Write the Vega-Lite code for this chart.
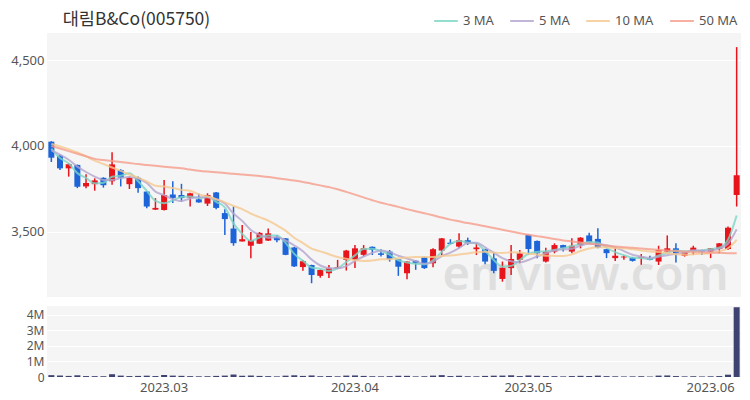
{
 "$schema": "https://vega.github.io/schema/vega-lite/v6.json",
 "padding": {"left": 10, "top": 8, "right": 10, "bottom": 5},
 "background": "#ffffff",
 "title": {"text": "대림B&Co(005750)", "anchor": "start", "dx": 52, "fontSize": 17.5, "font": "Noto Sans CJK KR", "fontWeight": "normal", "color": "#333333", "offset": -20},
 "data": {"values": [
{"date":"2023-02-10","open":4025,"high":4028,"low":3907,"close":3932,"volume":120000,"ma3":3985,"ma5":3975,"ma10":4012,"ma50":4000},
{"date":"2023-02-13","open":3944,"high":3950,"low":3860,"close":3870,"volume":95000,"ma3":3930,"ma5":3950,"ma10":3998,"ma50":3985},
{"date":"2023-02-14","open":3870,"high":3900,"low":3822,"close":3894,"volume":70000,"ma3":3898.7,"ma5":3920,"ma10":3982,"ma50":3970},
{"date":"2023-02-15","open":3890,"high":3892,"low":3755,"close":3763,"volume":110000,"ma3":3842.3,"ma5":3880,"ma10":3962,"ma50":3955},
{"date":"2023-02-16","open":3765,"high":3835,"low":3754,"close":3785,"volume":60000,"ma3":3814,"ma5":3848.8,"ma10":3940,"ma50":3940},
{"date":"2023-02-17","open":3778,"high":3812,"low":3740,"close":3800,"volume":55000,"ma3":3782.7,"ma5":3822.4,"ma10":3915,"ma50":3925},
{"date":"2023-02-20","open":3815,"high":3818,"low":3758,"close":3772,"volume":50000,"ma3":3785.7,"ma5":3802.8,"ma10":3895,"ma50":3919},
{"date":"2023-02-21","open":3795,"high":3963,"low":3775,"close":3893,"volume":180000,"ma3":3821.7,"ma5":3802.6,"ma10":3875,"ma50":3913},
{"date":"2023-02-22","open":3860,"high":3865,"low":3765,"close":3816,"volume":90000,"ma3":3827,"ma5":3813.2,"ma10":3855,"ma50":3907},
{"date":"2023-02-23","open":3778,"high":3822,"low":3750,"close":3815,"volume":60000,"ma3":3841.3,"ma5":3819.2,"ma10":3834,"ma50":3901},
{"date":"2023-02-24","open":3815,"high":3822,"low":3728,"close":3755,"volume":70000,"ma3":3795.3,"ma5":3810.2,"ma10":3816.3,"ma50":3895},
{"date":"2023-02-27","open":3735,"high":3738,"low":3638,"close":3648,"volume":85000,"ma3":3739.3,"ma5":3785.4,"ma10":3794.1,"ma50":3890},
{"date":"2023-02-28","open":3630,"high":3697,"low":3628,"close":3640,"volume":60000,"ma3":3681,"ma5":3734.8,"ma10":3768.7,"ma50":3885},
{"date":"2023-03-02","open":3628,"high":3802,"low":3625,"close":3715,"volume":130000,"ma3":3667.7,"ma5":3714.6,"ma10":3763.9,"ma50":3880},
{"date":"2023-03-03","open":3718,"high":3795,"low":3668,"close":3698,"volume":90000,"ma3":3684.3,"ma5":3691.2,"ma10":3755.2,"ma50":3875},
{"date":"2023-03-06","open":3715,"high":3780,"low":3675,"close":3697,"volume":75000,"ma3":3703.3,"ma5":3679.6,"ma10":3744.9,"ma50":3870},
{"date":"2023-03-07","open":3700,"high":3728,"low":3648,"close":3725,"volume":55000,"ma3":3706.7,"ma5":3695,"ma10":3740.2,"ma50":3863},
{"date":"2023-03-08","open":3690,"high":3722,"low":3670,"close":3672,"volume":45000,"ma3":3698,"ma5":3701.4,"ma10":3718.1,"ma50":3856},
{"date":"2023-03-09","open":3665,"high":3725,"low":3651,"close":3715,"volume":50000,"ma3":3704,"ma5":3701.4,"ma10":3708,"ma50":3851},
{"date":"2023-03-10","open":3730,"high":3732,"low":3632,"close":3640,"volume":70000,"ma3":3675.7,"ma5":3689.8,"ma10":3690.5,"ma50":3847},
{"date":"2023-03-13","open":3610,"high":3632,"low":3483,"close":3575,"volume":90000,"ma3":3643.3,"ma5":3665.4,"ma10":3672.5,"ma50":3843},
{"date":"2023-03-14","open":3520,"high":3648,"low":3420,"close":3435,"volume":160000,"ma3":3550,"ma5":3607.4,"ma10":3651.2,"ma50":3838},
{"date":"2023-03-15","open":3445,"high":3540,"low":3444,"close":3458,"volume":80000,"ma3":3489.3,"ma5":3564.6,"ma10":3633,"ma50":3834},
{"date":"2023-03-16","open":3420,"high":3500,"low":3347,"close":3452,"volume":95000,"ma3":3448.3,"ma5":3512,"ma10":3606.7,"ma50":3830},
{"date":"2023-03-17","open":3432,"high":3500,"low":3430,"close":3495,"volume":70000,"ma3":3468.3,"ma5":3483,"ma10":3586.4,"ma50":3826},
{"date":"2023-03-20","open":3450,"high":3521,"low":3448,"close":3492,"volume":55000,"ma3":3479.7,"ma5":3466.4,"ma10":3565.9,"ma50":3820},
{"date":"2023-03-21","open":3470,"high":3483,"low":3440,"close":3452,"volume":40000,"ma3":3479.7,"ma5":3469.8,"ma10":3538.6,"ma50":3813},
{"date":"2023-03-22","open":3463,"high":3465,"low":3365,"close":3367,"volume":85000,"ma3":3437,"ma5":3451.6,"ma10":3508.1,"ma50":3806},
{"date":"2023-03-23","open":3410,"high":3412,"low":3296,"close":3300,"volume":110000,"ma3":3373,"ma5":3421.2,"ma10":3466.6,"ma50":3799},
{"date":"2023-03-24","open":3296,"high":3337,"low":3275,"close":3330,"volume":70000,"ma3":3332.3,"ma5":3388.2,"ma10":3435.6,"ma50":3791},
{"date":"2023-03-27","open":3308,"high":3310,"low":3202,"close":3250,"volume":100000,"ma3":3293.3,"ma5":3339.8,"ma10":3403.1,"ma50":3781},
{"date":"2023-03-28","open":3245,"high":3282,"low":3234,"close":3279,"volume":50000,"ma3":3286.3,"ma5":3305.2,"ma10":3387.5,"ma50":3771},
{"date":"2023-03-29","open":3260,"high":3308,"low":3232,"close":3290,"volume":60000,"ma3":3273,"ma5":3289.8,"ma10":3370.7,"ma50":3761},
{"date":"2023-03-30","open":3288,"high":3338,"low":3286,"close":3295,"volume":45000,"ma3":3288,"ma5":3288.8,"ma10":3355,"ma50":3749},
{"date":"2023-03-31","open":3338,"high":3396,"low":3276,"close":3392,"volume":90000,"ma3":3325.7,"ma5":3301.2,"ma10":3344.7,"ma50":3733},
{"date":"2023-04-03","open":3338,"high":3425,"low":3290,"close":3405,"volume":100000,"ma3":3364,"ma5":3332.2,"ma10":3336,"ma50":3717},
{"date":"2023-04-04","open":3367,"high":3424,"low":3358,"close":3405,"volume":70000,"ma3":3400.7,"ma5":3357.4,"ma10":3331.3,"ma50":3701},
{"date":"2023-04-05","open":3414,"high":3416,"low":3366,"close":3396,"volume":50000,"ma3":3402,"ma5":3378.6,"ma10":3334.2,"ma50":3685},
{"date":"2023-04-06","open":3376,"high":3399,"low":3358,"close":3367,"volume":45000,"ma3":3389.3,"ma5":3393,"ma10":3340.9,"ma50":3670},
{"date":"2023-04-07","open":3386,"high":3395,"low":3328,"close":3342,"volume":55000,"ma3":3368.3,"ma5":3383,"ma10":3342.1,"ma50":3658},
{"date":"2023-04-10","open":3341,"high":3343,"low":3245,"close":3298,"volume":80000,"ma3":3335.7,"ma5":3361.6,"ma10":3346.9,"ma50":3646},
{"date":"2023-04-11","open":3260,"high":3330,"low":3225,"close":3328,"volume":75000,"ma3":3322.7,"ma5":3346.2,"ma10":3351.8,"ma50":3633},
{"date":"2023-04-12","open":3333,"high":3335,"low":3280,"close":3318,"volume":40000,"ma3":3314.7,"ma5":3330.6,"ma10":3354.6,"ma50":3621},
{"date":"2023-04-13","open":3353,"high":3356,"low":3285,"close":3290,"volume":50000,"ma3":3312,"ma5":3315.2,"ma10":3354.1,"ma50":3609},
{"date":"2023-04-14","open":3318,"high":3405,"low":3295,"close":3400,"volume":90000,"ma3":3336,"ma5":3326.8,"ma10":3354.9,"ma50":3597},
{"date":"2023-04-17","open":3392,"high":3465,"low":3366,"close":3463,"volume":120000,"ma3":3384.3,"ma5":3359.8,"ma10":3360.7,"ma50":3584},
{"date":"2023-04-18","open":3438,"high":3458,"low":3428,"close":3430,"volume":60000,"ma3":3431,"ma5":3380.2,"ma10":3363.2,"ma50":3572},
{"date":"2023-04-19","open":3415,"high":3493,"low":3405,"close":3452,"volume":80000,"ma3":3448.3,"ma5":3407,"ma10":3368.8,"ma50":3562},
{"date":"2023-04-20","open":3452,"high":3467,"low":3425,"close":3435,"volume":50000,"ma3":3439,"ma5":3436,"ma10":3375.6,"ma50":3552},
{"date":"2023-04-21","open":3400,"high":3434,"low":3366,"close":3410,"volume":45000,"ma3":3432.3,"ma5":3438,"ma10":3382.4,"ma50":3543},
{"date":"2023-04-24","open":3400,"high":3402,"low":3312,"close":3328,"volume":70000,"ma3":3391,"ma5":3411,"ma10":3385.4,"ma50":3533},
{"date":"2023-04-25","open":3347,"high":3382,"low":3260,"close":3274,"volume":85000,"ma3":3337.3,"ma5":3379.8,"ma10":3380,"ma50":3523},
{"date":"2023-04-26","open":3227,"high":3328,"low":3211,"close":3292,"volume":90000,"ma3":3298,"ma5":3347.8,"ma10":3377.4,"ma50":3513},
{"date":"2023-04-27","open":3290,"high":3425,"low":3250,"close":3343,"volume":110000,"ma3":3303,"ma5":3329.4,"ma10":3382.7,"ma50":3503},
{"date":"2023-04-28","open":3338,"high":3395,"low":3318,"close":3376,"volume":60000,"ma3":3337,"ma5":3322.6,"ma10":3380.3,"ma50":3493},
{"date":"2023-05-02","open":3483,"high":3485,"low":3366,"close":3401,"volume":100000,"ma3":3373.3,"ma5":3337.2,"ma10":3374.1,"ma50":3484},
{"date":"2023-05-03","open":3448,"high":3450,"low":3348,"close":3376,"volume":80000,"ma3":3384.3,"ma5":3357.6,"ma10":3368.7,"ma50":3476},
{"date":"2023-05-04","open":3328,"high":3409,"low":3322,"close":3386,"volume":60000,"ma3":3387.7,"ma5":3376.4,"ma10":3362.1,"ma50":3468},
{"date":"2023-05-08","open":3386,"high":3434,"low":3376,"close":3424,"volume":55000,"ma3":3395.3,"ma5":3392.6,"ma10":3361,"ma50":3459},
{"date":"2023-05-09","open":3424,"high":3426,"low":3387,"close":3406,"volume":40000,"ma3":3405.3,"ma5":3398.6,"ma10":3360.6,"ma50":3451},
{"date":"2023-05-10","open":3386,"high":3463,"low":3376,"close":3420,"volume":60000,"ma3":3416.7,"ma5":3402.4,"ma10":3369.8,"ma50":3445},
{"date":"2023-05-11","open":3424,"high":3470,"low":3405,"close":3467,"volume":75000,"ma3":3431,"ma5":3420.6,"ma10":3389.1,"ma50":3439},
{"date":"2023-05-12","open":3480,"high":3495,"low":3430,"close":3440,"volume":65000,"ma3":3442.3,"ma5":3431.4,"ma10":3403.9,"ma50":3433},
{"date":"2023-05-15","open":3460,"high":3522,"low":3405,"close":3410,"volume":90000,"ma3":3439,"ma5":3428.6,"ma10":3410.6,"ma50":3427},
{"date":"2023-05-16","open":3400,"high":3402,"low":3348,"close":3377,"volume":55000,"ma3":3409,"ma5":3422.8,"ma10":3410.7,"ma50":3421},
{"date":"2023-05-17","open":3348,"high":3410,"low":3331,"close":3362,"volume":45000,"ma3":3383,"ma5":3411.2,"ma10":3406.8,"ma50":3415},
{"date":"2023-05-18","open":3352,"high":3364,"low":3338,"close":3357,"volume":35000,"ma3":3365.3,"ma5":3389.2,"ma10":3404.9,"ma50":3411},
{"date":"2023-05-19","open":3350,"high":3355,"low":3328,"close":3332,"volume":40000,"ma3":3350.3,"ma5":3367.6,"ma10":3399.5,"ma50":3408},
{"date":"2023-05-22","open":3348,"high":3372,"low":3310,"close":3356,"volume":50000,"ma3":3348.3,"ma5":3356.8,"ma10":3392.7,"ma50":3404},
{"date":"2023-05-23","open":3346,"high":3362,"low":3336,"close":3338,"volume":30000,"ma3":3342,"ma5":3349,"ma10":3385.9,"ma50":3400},
{"date":"2023-05-24","open":3328,"high":3420,"low":3308,"close":3395,"volume":90000,"ma3":3363,"ma5":3355.6,"ma10":3383.4,"ma50":3397},
{"date":"2023-05-25","open":3386,"high":3480,"low":3385,"close":3405,"volume":100000,"ma3":3379.3,"ma5":3365.2,"ma10":3377.2,"ma50":3393},
{"date":"2023-05-26","open":3405,"high":3434,"low":3323,"close":3376,"volume":60000,"ma3":3392,"ma5":3374,"ma10":3370.8,"ma50":3389},
{"date":"2023-05-29","open":3362,"high":3384,"low":3357,"close":3382,"volume":40000,"ma3":3387.7,"ma5":3379.2,"ma10":3368,"ma50":3386},
{"date":"2023-05-30","open":3390,"high":3420,"low":3366,"close":3409,"volume":50000,"ma3":3389,"ma5":3393.4,"ma10":3371.2,"ma50":3384},
{"date":"2023-05-31","open":3395,"high":3397,"low":3366,"close":3386,"volume":35000,"ma3":3392.3,"ma5":3391.6,"ma10":3373.6,"ma50":3382},
{"date":"2023-06-01","open":3386,"high":3407,"low":3348,"close":3405,"volume":45000,"ma3":3400,"ma5":3391.6,"ma10":3378.4,"ma50":3380},
{"date":"2023-06-02","open":3401,"high":3436,"low":3376,"close":3434,"volume":60000,"ma3":3408.3,"ma5":3403.2,"ma10":3388.6,"ma50":3379},
{"date":"2023-06-05","open":3401,"high":3532,"low":3395,"close":3525,"volume":150000,"ma3":3454.7,"ma5":3431.8,"ma10":3405.5,"ma50":3377},
{"date":"2023-06-07","open":3715,"high":4575,"low":3648,"close":3830,"volume":4500000,"ma3":3596.3,"ma5":3516,"ma10":3454.7,"ma50":3376}
 ]},
 "spacing": 7,
 "vconcat": [
  {
   "width": 694,
   "height": 264,
   "encoding": {
    "x": {"field": "date", "type": "ordinal", "bandPosition": 0.5, "scale": {"type": "band", "paddingInner": 0, "paddingOuter": 0}, "axis": null}
   },
   "layer": [
    {
     "data": {"values": [{"date": "2023-05-11", "price": 3163, "label": "emview.com"}]},
     "mark": {"type": "text", "fontSize": 47, "font": "Noto Sans", "fontWeight": 600, "color": "#dcdcdc", "opacity": 0.85, "align": "center", "baseline": "alphabetic", "dx": 5},
     "encoding": {
      "y": {"field": "price", "type": "quantitative"},
      "text": {"field": "label"}
     }
    },
    {
     "mark": {"type": "rule", "strokeWidth": 1.5},
     "encoding": {
      "y": {"field": "low", "type": "quantitative", "scale": {"domain": [3122, 4657], "nice": false, "zero": false}, "axis": {"values": [3500, 4000, 4500], "format": ",d", "title": null}},
      "y2": {"field": "high"},
      "color": {"condition": {"test": "datum.close >= datum.open", "value": "#e8141c"}, "value": "#1d64d8"}
     }
    },
    {
     "mark": {"type": "bar", "size": 6},
     "encoding": {
      "y": {"field": "open", "type": "quantitative"},
      "y2": {"field": "close"},
      "color": {"condition": {"test": "datum.close >= datum.open", "value": "#e8141c"}, "value": "#1d64d8"}
     }
    },
    {
     "transform": [{"fold": ["ma3", "ma5", "ma10", "ma50"], "as": ["series", "value"]}],
     "mark": {"type": "line", "strokeWidth": 2, "opacity": 0.8, "interpolate": "monotone"},
     "encoding": {
      "y": {"field": "value", "type": "quantitative"},
      "color": {
       "field": "series", "type": "nominal",
       "scale": {"domain": ["ma3", "ma5", "ma10", "ma50"], "range": ["#7ad6c6", "#b3a5cf", "#f5c88e", "#f59c8a"]},
       "legend": {
        "orient": "none", "legendX": 386, "legendY": -25, "direction": "horizontal", "title": null,
        "symbolType": "stroke", "symbolStrokeWidth": 2, "symbolSize": 560, "labelFontSize": 13, "labelColor": "#555555", "labelFont": "Noto Sans", "columnPadding": 12,
        "labelExpr": "datum.label == 'ma3' ? '3 MA' : datum.label == 'ma5' ? '5 MA' : datum.label == 'ma10' ? '10 MA' : '50 MA'"
       }
      }
     }
    }
   ]
  },
  {
   "width": 694,
   "height": 71,
   "mark": {"type": "bar", "size": 6, "color": "#3d4270"},
   "encoding": {
    "x": {"field": "date", "type": "ordinal", "scale": {"type": "band", "paddingInner": 0, "paddingOuter": 0},
     "axis": {"values": ["2023-03-02", "2023-04-03", "2023-05-02", "2023-06-01"], "labelExpr": "replace(substring(datum.value,0,7),'-','.')", "labelAngle": 0, "ticks": false, "domain": false, "grid": false, "labelPadding": 4, "title": null}},
    "y": {"field": "volume", "type": "quantitative", "scale": {"domain": [0, 4580000], "nice": false}, "axis": {"values": [0, 1000000, 2000000, 3000000, 4000000], "labelExpr": "datum.value == 0 ? '0' : (datum.value / 1000000) + 'M'", "title": null, "labelFontSize": 12}}
   }
  }
 ],
 "config": {
  "view": {"fill": "#f5f5f5", "stroke": null},
  "axis": {"labelFontSize": 13, "labelColor": "#555555", "labelFont": "Noto Sans", "domain": false, "ticks": false, "gridColor": "#ffffff", "gridWidth": 1, "labelPadding": 3}
 }
}
